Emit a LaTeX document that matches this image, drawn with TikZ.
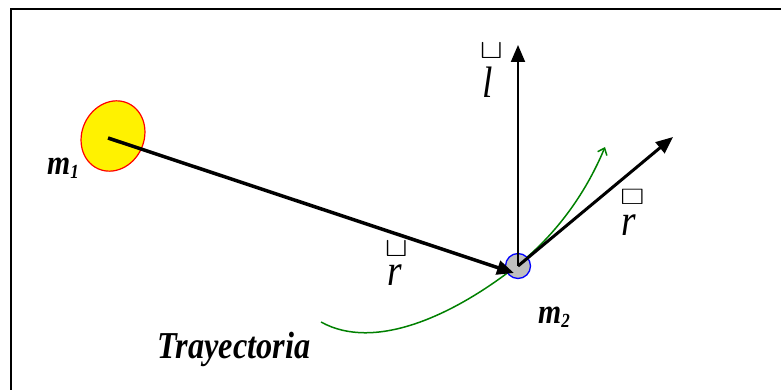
\documentclass[tikz,border=0pt]{standalone}
\usepackage{fontspec}
\setmainfont{Liberation Serif}[FakeStretch=0.85]
\usepackage{amssymb}
\usepackage{graphicx}
\usetikzlibrary{arrows.meta, shapes.geometric, positioning}

\newcommand{\marcacopa}{\resizebox{23pt}{15pt}{$\sqcup$}}
\newcommand{\marcacaja}{\resizebox{24pt}{15pt}{$\square$}}

\tikzset{
  masauno/.style={ellipse, draw=red, line width=1.2pt, fill=yellow,
    minimum width=62pt, minimum height=72pt, inner sep=0pt, rotate=-25},
  masados/.style={circle, draw=blue, line width=1.3pt, fill=black!25,
    minimum size=25pt, inner sep=0pt},
  flecha/.style={-{Triangle[length=17pt,width=14pt]}},
  trayec/.style={draw=green!50!black, line width=1.5pt,
    -{Straight Barb[length=6pt,width=10pt]}},
  etiq/.style={inner sep=0pt, anchor=base west,
    font=\fontsize{35}{35}\selectfont\bfseries\itshape},
  vetiq/.style={inner sep=0pt, anchor=base west,
    font=\fontsize{44}{44}\selectfont\itshape},
  marca/.style={inner sep=0pt}
}

\begin{document}
\begin{tikzpicture}[x=1pt, y=-1pt]
\useasboundingbox (0,0) rectangle (781,390);
% marco (solo arriba e izquierda)
\draw[line width=2pt] (11,390) -- (11,9) -- (781,9);
% las dos masas
\node[masauno] (m1) at (113,136) {};
\coordinate (ltip) at (518,45);
\coordinate (rtip) at (673,137);
\coordinate (t0) at (321,322);
\coordinate (ttip) at (605,147);
% trayectoria de m2
\draw[trayec] (t0) .. controls (375,352) and (455,315) .. (519,264)
  .. controls (555,235) and (585,195) .. (ttip);
\node[masados] (m2) at (518,266) {};
% vectores r, l y r unitario
\draw[flecha, line width=3.5pt] (108,138) -- ([shift={(-4pt,-7pt)}]m2.center);
\draw[flecha, line width=2pt] (m2.center) -- (ltip);
\draw[flecha, line width=3pt] (m2.center) -- (rtip);
% etiquetas
\node[etiq] (m1lab) at (47,175) {m\raisebox{-4pt}{\fontsize{20}{20}\selectfont 1}};
\node[etiq] (m2lab) at (538,323) {m\raisebox{-4pt}{\fontsize{20}{20}\selectfont 2}};
\node[etiq, font=\fontsize{38}{38}\selectfont\bfseries\itshape] (tlab) at (157,358) {Trayectoria};
\node[vetiq, label={[marca, xshift=4pt, label distance=9pt]above:\marcacopa}] (llab) at (482,98) {l};
\node[vetiq, label={[marca, xshift=2pt, label distance=7pt]above:\marcacopa}] (rlab) at (387,285) {r};
\node[vetiq, label={[marca, xshift=4pt, label distance=9pt]above:\marcacaja}] (rulab) at (621,235) {r};
\end{tikzpicture}
\end{document}
